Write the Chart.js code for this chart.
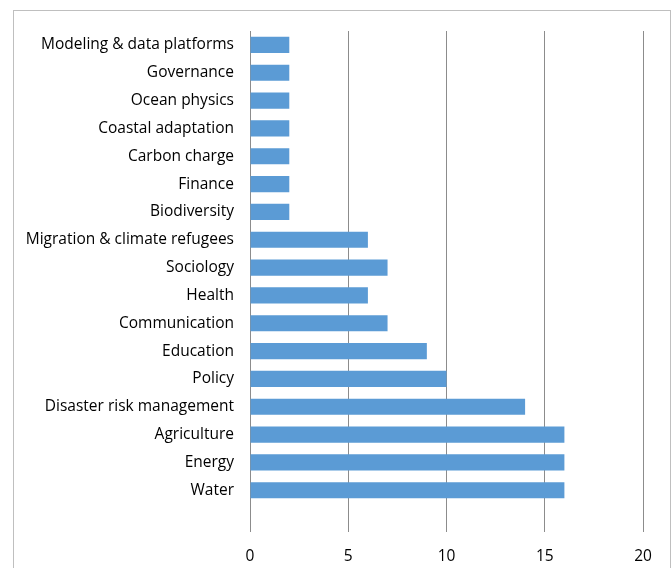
<!DOCTYPE html>
<html>
<head>
<meta charset="utf-8">
<script src="https://cdn.jsdelivr.net/npm/chart.js@4"></script>
<style>
  html, body { margin: 0; padding: 0; background: #fff; }
  .wrap { position: relative; width: 672px; height: 568px; overflow: hidden; }
  .frame { position: absolute; left: 13px; top: 10px; width: 656px; height: 620px;
           border: 1px solid #bfbfbf; pointer-events: none; }
</style>
</head>
<body>
<div class="wrap">
  <canvas id="topics" width="672" height="568"></canvas>
  <div class="frame"></div>
</div>
<script>
// top to bottom, last slot left empty like the source
const topics = [
  "Modeling & data platforms", "Governance", "Ocean physics", "Coastal adaptation",
  "Carbon charge", "Finance", "Biodiversity", "Migration & climate refugees",
  "Sociology", "Health", "Communication", "Education", "Policy",
  "Disaster risk management", "Agriculture", "Energy", "Water", ""
];
const counts = [2, 2, 2, 2, 2, 2, 2, 6, 7, 6, 7, 9, 10, 14, 16, 16, 16, null];
const xTicks = [0, 5, 10, 15, 20];

const font = { family: "'Open Sans', 'Liberation Sans', sans-serif", size: 15.5 };

new Chart(document.getElementById("topics"), {
  type: "bar",
  data: {
    labels: topics,
    datasets: [{
      data: counts,
      backgroundColor: "#5b9bd5",
      borderWidth: 0,
      categoryPercentage: 1,
      barPercentage: 0.58,
    }],
  },
  options: {
    indexAxis: "y",
    responsive: false,
    animation: false,
    layout: { padding: { top: 31, right: 29, bottom: 0, left: 0 } },
    plugins: { legend: { display: false }, tooltip: { enabled: false } },
    scales: {
      x: {
        min: 0,
        max: 20,
        afterBuildTicks: (s) => { s.ticks = xTicks.map((v) => ({ value: v })); },
        afterFit: (s) => { s.height = 36; },
        ticks: { color: "#000", font, padding: 15 },
        grid: { color: "#8c8c8c", lineWidth: 1, drawTicks: false },
        border: { display: false },
      },
      y: {
        afterFit: (s) => { s.width = 250; },
        ticks: { color: "#000", font, padding: 16, autoSkip: false },
        grid: { display: false, drawTicks: false },
        border: { display: false },
      },
    },
  },
});
</script>
</body>
</html>
